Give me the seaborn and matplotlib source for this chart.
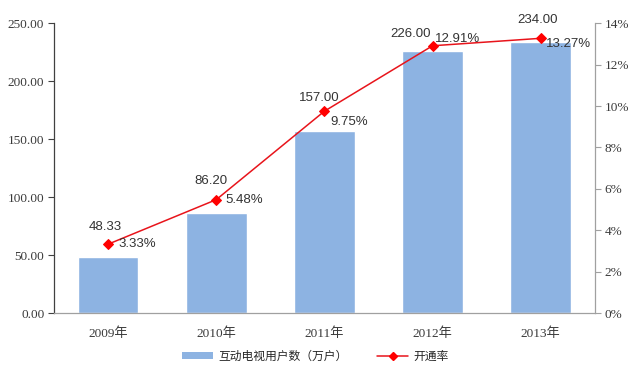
import matplotlib
matplotlib.use("Agg")
import matplotlib.pyplot as plt
import seaborn as sns
import pandas as pd
from matplotlib.ticker import FuncFormatter, MultipleLocator
from matplotlib.patches import Patch
from matplotlib.lines import Line2D

years = ["2009年", "2010年", "2011年", "2012年", "2013年"]
users = [48.33, 86.20, 157.00, 226.00, 234.00]
rate = [3.33, 5.48, 9.75, 12.91, 13.27]
bar_name = "互动电视用户数（万户）"
line_name = "开通率"

# label offsets in points (style only)
val_off = [(-2, 8), (-4, 9), (-4, 5), (-16, 4), (-2, 9)]
pct_off = [(21, 0), (20, 0), (18, -8), (18, 5), (20, -4)]

sns.set_theme(style="white")
plt.rcParams["font.family"] = ["Liberation Serif", "Noto Sans CJK SC"]

df = pd.DataFrame({"year": years, "users": users, "rate": rate})

fig = plt.figure(figsize=(6.31, 3.68), dpi=100)
ax = fig.add_axes([0.0856, 0.149, 0.857, 0.788])
bar_color = "#8DB3E2"
sns.barplot(data=df, x="year", y="users", color=bar_color, width=0.56,
            saturation=1, ax=ax)
ax.set_ylim(0, 250)
ax.yaxis.set_major_locator(MultipleLocator(50))
ax.yaxis.set_major_formatter(FuncFormatter(lambda v, p: f"{v:.2f}"))
ax.set_xlim(-0.5, 4.5)
ax.set_xlabel("")
ax.set_ylabel("")

ax2 = ax.twinx()
sns.lineplot(data=df, x="year", y="rate", color="#E8141B", marker="D",
             markersize=5.5, markeredgecolor="#FF0000", markerfacecolor="#FF0000",
             linewidth=1.1, ax=ax2)
ax2.set_ylim(0, 14)
ax2.yaxis.set_major_locator(MultipleLocator(2))
ax2.yaxis.set_major_formatter(FuncFormatter(lambda v, p: f"{v:.0f}%"))
ax2.set_ylabel("")
ax2.set_xlim(-0.5, 4.5)

for a in (ax, ax2):
    for s in a.spines.values():
        s.set_visible(False)
ax.spines["left"].set_visible(True)
ax.spines["left"].set_color("#404040")
ax.spines["left"].set_linewidth(0.9)
ax.spines["bottom"].set_visible(True)
ax.spines["bottom"].set_color("#A0A0A0")
ax.spines["bottom"].set_linewidth(0.9)
ax2.spines["right"].set_visible(True)
ax2.spines["right"].set_color("#A0A0A0")
ax2.spines["right"].set_linewidth(0.9)

ax.tick_params(axis="y", which="major", left=True, length=4, width=0.8,
               color="#404040", labelsize=9.5, labelcolor="#3A3A3A", pad=3)
ax.tick_params(axis="x", bottom=False, labelsize=9.5, labelcolor="#3A3A3A", pad=4)
ax2.tick_params(axis="y", right=True, length=4, width=0.8, color="#A0A0A0",
                labelsize=9.5, labelcolor="#3A3A3A", pad=3)

for i, (u, r) in enumerate(zip(users, rate)):
    ax2.annotate(f"{u:.2f}", (i, r), xytext=val_off[i], textcoords="offset points",
                 ha="center", va="bottom", fontsize=9.5, color="#333333",
                 family=["Liberation Sans", "DejaVu Sans"])
    ax2.annotate(f"{r:.2f}%", (i, r), xytext=pct_off[i], textcoords="offset points",
                 ha="center", va="center", fontsize=9.5, color="#333333",
                 family=["Liberation Sans", "DejaVu Sans"])

handles = [Patch(facecolor=bar_color, edgecolor="none"),
           Line2D([], [], color="#E8141B", marker="D", markersize=4,
                  markerfacecolor="#FF0000", markeredgecolor="#FF0000", linewidth=1.1)]
fig.legend(handles, [bar_name, line_name], loc="center", bbox_to_anchor=(0.5, 0.033),
           ncol=2, frameon=False, prop={"family": ["Noto Sans CJK SC"], "size": 8.5},
           handlelength=2.6, handleheight=0.5, columnspacing=2.5, handletextpad=0.5)

fig.savefig("out.png", dpi=100)
